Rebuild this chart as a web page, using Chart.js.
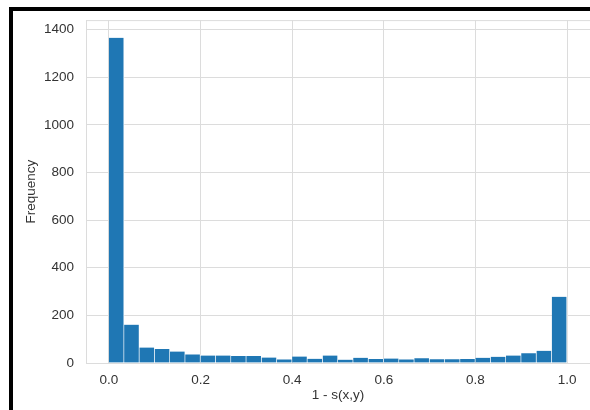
<!DOCTYPE html>
<html>
<head>
<meta charset="utf-8">
<script src="https://cdn.jsdelivr.net/npm/chart.js@4.4.1/dist/chart.umd.min.js"></script>
<style>
    html, body { margin: 0; padding: 0; background: #ffffff; }
    #wrap { position: relative; width: 590px; height: 410px; overflow: hidden; }
    #frame { position: absolute; left: 9px; top: 7px; right: -10px; bottom: -10px;
             border-top: 4px solid #000; border-left: 4px solid #000; pointer-events: none; }
</style>
</head>
<body>
<div id="wrap">
    <canvas id="chart-hist" width="590" height="410"></canvas>
    <div id="frame"></div>
</div>
<script>
// histogram of 1 - s(x,y), 30 bins over [0, 1]
const BIN_LO = 0;
const BIN_HI = 1;
const frequencies = [
    1366, 161, 65, 59, 48, 36, 31, 31, 29, 29,
    23, 15, 27, 18, 31, 14, 22, 17, 19, 15,
    20, 16, 16, 17, 22, 26, 31, 41, 51, 278
];
const xTicks = [0.0, 0.2, 0.4, 0.6, 0.8, 1.0];
const yTicks = [0, 200, 400, 600, 800, 1000, 1200, 1400];

const binWidth = (BIN_HI - BIN_LO) / frequencies.length;
const points = frequencies.map((f, i) => ({ x: BIN_LO + (i + 0.5) * binWidth, y: f }));

const GRID = '#dcdcdc';
const TEXT = '#333333';
const FONT = { family: '"Liberation Sans", Arial, sans-serif', size: 13.5 };

// light border round the plot area (matplotlib spines)
const spines = {
    id: 'spines',
    beforeDatasetsDraw(chart) {
        const { ctx, chartArea: a } = chart;
        ctx.save();
        ctx.strokeStyle = GRID;
        ctx.lineWidth = 1;
        ctx.strokeRect(a.left + 0.5, a.top + 0.5, a.right - a.left, a.bottom - a.top);
        ctx.restore();
    }
};

new Chart(document.getElementById('chart-hist'), {
    type: 'bar',
    data: {
        datasets: [{
            data: points,
            backgroundColor: '#1f77b4',
            borderColor: '#ffffff',
            borderWidth: { left: 0, right: 1, top: 0, bottom: 0 },
            barPercentage: 1,
            categoryPercentage: 1
        }]
    },
    options: {
        responsive: false, animation: false,
        layout: { padding: { top: 18, right: 0, left: 0, bottom: 0 } },
        scales: {
            x: {
                type: 'linear', min: -0.05, max: 1.05, offset: false,
                afterBuildTicks: (s) => { s.ticks = xTicks.map(v => ({ value: v })); },
                afterFit: (s) => { s.height = 47; },
                grid: { color: GRID, drawTicks: false, offset: false },
                border: { color: GRID },
                ticks: { color: TEXT, font: FONT, padding: 9, maxRotation: 0, callback: (v) => v.toFixed(1) },
                title: { display: true, text: '1 - s(x,y)', color: TEXT, font: FONT, padding: { top: 0, bottom: 7 } }
            },
            y: {
                min: 0, max: 1440,
                afterBuildTicks: (s) => { s.ticks = yTicks.map(v => ({ value: v })); },
                afterFit: (s) => { s.width = 86; },
                grid: { color: GRID, drawTicks: false },
                border: { color: GRID },
                ticks: { color: TEXT, font: FONT, padding: 12, callback: (v) => String(v) },
                title: { display: true, text: 'Frequency', color: TEXT, font: FONT, padding: { top: 23, bottom: 0 } }
            }
        },
        plugins: { legend: { display: false }, tooltip: { enabled: false } }
    },
    plugins: [spines]
});
</script>
</body>
</html>
